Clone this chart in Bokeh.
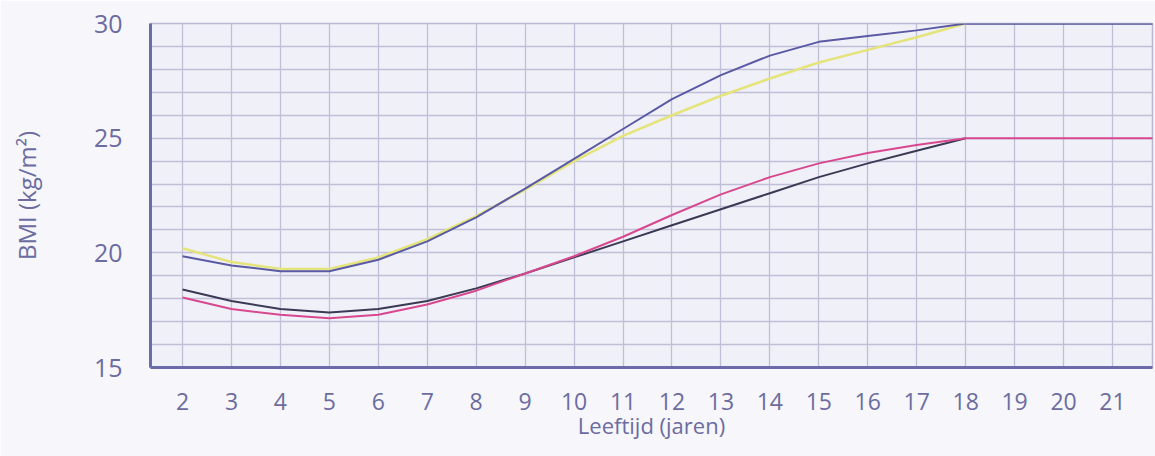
from bokeh.plotting import figure
from bokeh.models import FixedTicker, Range1d
from bokeh.embed import file_html
from bokeh.resources import INLINE

# ---- data ----
ages = [2, 3, 4, 5, 6, 7, 8, 9, 10, 11, 12, 13, 14, 15, 16, 17, 18]
obese_blue = [19.85, 19.45, 19.2, 19.2, 19.7, 20.5, 21.55, 22.8, 24.1, 25.4, 26.7, 27.75, 28.6, 29.2, 29.45, 29.7, 30.0]
obese_yellow = [20.2, 19.6, 19.3, 19.3, 19.8, 20.6, 21.6, 22.75, 24.0, 25.1, 26.0, 26.85, 27.6, 28.3, 28.85, 29.4, 30.0]
over_black = [18.4, 17.9, 17.55, 17.4, 17.55, 17.9, 18.45, 19.1, 19.8, 20.5, 21.2, 21.9, 22.6, 23.3, 23.9, 24.45, 25.0]
over_pink = [18.05, 17.55, 17.3, 17.15, 17.3, 17.75, 18.35, 19.1, 19.85, 20.7, 21.65, 22.55, 23.3, 23.9, 24.35, 24.7, 25.0]
adult_ages = [18, 19, 20, 21, 22]
adult_obese = [30, 30, 30, 30, 30]
adult_over = [25, 25, 25, 25, 25]

x_ticks = list(range(2, 22))
y_ticks = [15, 20, 25, 30]
x_label = "Leeftijd (jaren)"
y_label = "BMI (kg/m²)"

TEXT = "#6c6ca0"
FONT = "Open Sans"

p = figure(width=1155, height=456, output_backend="svg", toolbar_location=None,
           x_range=Range1d(1.346, 21.817), y_range=Range1d(15, 30),
           min_border_left=150, min_border_right=3, min_border_top=23, min_border_bottom=89)

p.background_fill_color = "#f0f0f8"
p.border_fill_color = "#f6f6fb"
p.outline_line_color = "#b8b8d2"
p.outline_line_width = 1.5

# grid
p.xgrid.ticker = FixedTicker(ticks=x_ticks)
p.ygrid.ticker = FixedTicker(ticks=list(range(15, 31)))
for g in (p.xgrid, p.ygrid):
    g.grid_line_color = "#bfc0d8"
    g.grid_line_width = 1.3

# axes
p.xaxis.ticker = FixedTicker(ticks=x_ticks)
p.yaxis.ticker = FixedTicker(ticks=y_ticks)
for ax in (p.xaxis, p.yaxis):
    ax.axis_line_color = "#6b6baa"
    ax.axis_line_width = 3
    ax.major_tick_line_color = None
    ax.minor_tick_line_color = None
    ax.major_label_text_font = FONT
    ax.major_label_text_color = TEXT
    ax.axis_label_text_font = FONT
    ax.axis_label_text_color = TEXT
    ax.axis_label_text_font_style = "normal"

p.xaxis.major_label_text_font_size = "23px"
p.yaxis.major_label_text_font_size = "25px"
p.xaxis.axis_label_text_font_size = "22px"
p.yaxis.axis_label_text_font_size = "24px"
p.xaxis.major_label_standoff = 19
p.yaxis.major_label_standoff = 22
p.xaxis.axis_label = x_label
p.yaxis.axis_label = y_label
p.xaxis.axis_label_standoff = -3
p.yaxis.axis_label_standoff = 48

# lines
p.line(ages, obese_yellow, line_color="#e4e47a", line_width=2.5)
p.line(ages, obese_blue, line_color="#5a5aa4", line_width=2)
p.line(adult_ages, adult_obese, line_color="#55559a", line_width=2.5)
p.line(ages, over_black, line_color="#3a3a55", line_width=2)
p.line(ages, over_pink, line_color="#d8488e", line_width=2)
p.line(adult_ages, adult_over, line_color="#d8488e", line_width=2)

open("out.html", "w").write(file_html(p, INLINE))
